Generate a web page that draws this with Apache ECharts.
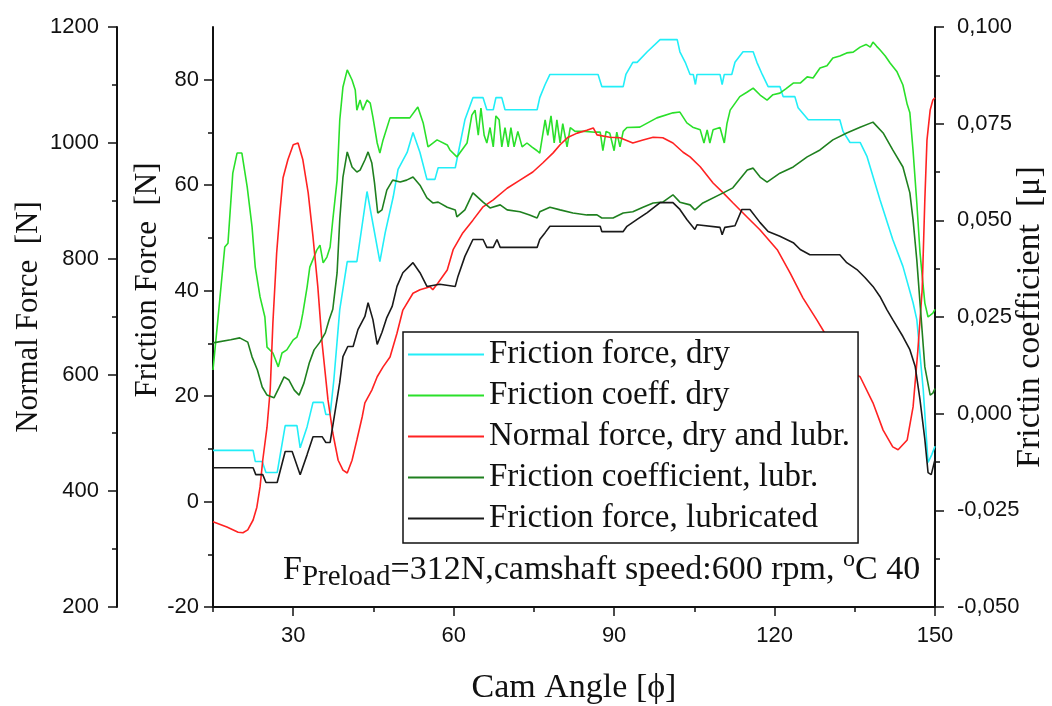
<!DOCTYPE html>
<html>
<head>
<meta charset="utf-8">
<script src="https://cdn.jsdelivr.net/npm/echarts@6/dist/echarts.min.js"></script>
<style>
html,body{margin:0;padding:0;background:#fff;}
#chart{width:1052px;height:706px;}
</style>
</head>
<body>
<div id="chart"></div>
<script>
// ---- data ----
const xTickLabels = [30, 60, 90, 120, 150];
const xMinorTicks = [15, 45, 75, 105, 135];
const ffTickLabels = [-20, 0, 20, 40, 60, 80];
const ffMinorTicks = [-10, 10, 30, 50, 70];
const nfTickLabels = [200, 400, 600, 800, 1000, 1200];
const nfMinorTicks = [300, 500, 700, 900, 1100];
const muTickLabels = [-0.05, -0.025, 0, 0.025, 0.05, 0.075, 0.1];
const muMinorTicks = [-0.0375, -0.0125, 0.0125, 0.0375, 0.0625, 0.0875];

const seriesNames = ['Friction force, dry', 'Friction coeff. dry', 'Normal force, dry and lubr.', 'Friction coefficient, lubr.', 'Friction force, lubricated'];

// Friction force, dry [N]
const frictionForceDry = [[15,9.7],[22.5,9.7],[22.9,7.6],[24.2,7.6],[24.9,5.5],[27.0,5.5],[28.5,14.4],[30.7,14.4],[31.3,10.2],[32.6,14.2],[33.7,18.8],[35.6,18.8],[36.1,16.5],[36.9,16.5],[37.6,23.1],[38.7,36.4],[40.1,45.5],[41.9,45.5],[43.8,58.8],[46.2,45.5],[47.2,51.0],[48.7,57.8],[49.6,63.0],[51.3,66.2],[52.4,70.0],[53.7,66.2],[55.0,61.1],[56.5,61.1],[57.1,63.3],[60.3,63.3],[62.1,72.4],[63.6,76.6],[65.5,76.6],[66.2,74.3],[67.4,74.3],[67.9,76.6],[69.0,76.6],[69.6,74.3],[75.6,74.3],[76.1,76.6],[77.1,79.1],[78.0,81.0],[87.0,81.0],[87.7,78.7],[91.7,78.7],[92.2,81.0],[93.5,83.3],[94.3,83.3],[96.2,85.3],[98.6,87.6],[101.8,87.6],[102.3,85.3],[103.3,83.3],[104.2,81.0],[104.8,81.0],[105.2,79.1],[105.5,81.0],[109.8,81.0],[110.2,79.1],[110.6,81.0],[112.0,81.0],[112.6,83.3],[114.1,85.3],[116.0,85.3],[116.7,83.3],[117.7,81.0],[118.8,78.7],[121.0,78.7],[121.6,76.8],[123.8,76.8],[124.4,74.7],[126.3,72.4],[132.2,72.4],[132.8,70.2],[134.1,68.1],[136.0,68.1],[137.3,65.4],[139.7,57.3],[142.1,49.7],[144.0,44.6],[145.9,37.7],[146.6,34.5],[147.8,21.2],[148.7,7.4],[149.4,8.9],[150,10.5]];

// Friction coeff. dry [mu]
const frictionCoeffDry = [[15.0,0.0113],[15.9,0.0242],[17.2,0.0431],[17.8,0.0441],[18.7,0.0622],[19.5,0.0674],[20.4,0.0674],[21.4,0.0586],[22.3,0.0483],[22.9,0.0379],[23.8,0.0302],[24.7,0.0250],[25.1,0.0172],[26.2,0.0157],[27.2,0.0121],[27.9,0.0157],[28.8,0.0165],[30.0,0.0191],[30.7,0.0198],[31.3,0.0224],[31.8,0.0260],[32.6,0.0328],[33.1,0.0379],[34.4,0.0423],[35.0,0.0436],[35.6,0.0390],[36.3,0.0405],[36.9,0.0431],[37.4,0.0501],[38.2,0.0604],[38.7,0.0759],[39.3,0.0845],[40.1,0.0889],[41.0,0.0863],[41.6,0.0837],[41.9,0.0785],[42.5,0.0811],[43.0,0.0785],[43.8,0.0811],[44.4,0.0803],[44.9,0.0767],[45.7,0.0700],[46.2,0.0674],[46.8,0.0708],[48.1,0.0765],[50.0,0.0765],[51.8,0.0765],[53.3,0.0793],[54.3,0.0752],[55.2,0.0690],[56.9,0.0708],[58.8,0.0695],[59.3,0.0682],[60.6,0.0664],[62.5,0.0700],[63.4,0.0772],[64.0,0.0785],[64.6,0.0720],[65.1,0.0790],[65.7,0.0720],[66.2,0.0700],[66.8,0.0740],[67.4,0.0690],[67.9,0.0770],[68.5,0.0760],[69.0,0.0690],[69.6,0.0740],[70.2,0.0690],[70.7,0.0740],[71.3,0.0690],[72.0,0.0730],[72.8,0.0690],[73.7,0.0700],[74.6,0.0690],[75.6,0.0680],[76.1,0.0674],[77.1,0.0760],[77.6,0.0720],[78.2,0.0770],[78.8,0.0700],[79.3,0.0760],[79.9,0.0700],[80.4,0.0750],[81.2,0.0690],[81.8,0.0740],[82.7,0.0730],[84.6,0.0730],[86.4,0.0728],[87.4,0.0728],[87.9,0.0680],[88.5,0.0730],[89.2,0.0725],[90.0,0.0680],[90.5,0.0728],[91.1,0.0690],[91.7,0.0730],[92.4,0.0740],[94.8,0.0741],[98.0,0.0765],[101.0,0.0778],[102.3,0.0780],[103.6,0.0752],[104.7,0.0741],[106.1,0.0734],[106.8,0.0700],[107.4,0.0734],[107.9,0.0700],[108.5,0.0734],[109.8,0.0740],[110.6,0.0700],[111.1,0.0750],[111.7,0.0785],[113.5,0.0820],[114.9,0.0832],[116.0,0.0842],[117.3,0.0824],[118.6,0.0811],[119.7,0.0825],[121.0,0.0829],[122.1,0.0840],[123.5,0.0855],[124.8,0.0855],[126.1,0.0871],[127.2,0.0868],[128.5,0.0894],[129.8,0.0900],[130.9,0.0920],[132.2,0.0925],[133.5,0.0933],[134.7,0.0935],[136.0,0.0948],[137.1,0.0955],[137.9,0.0948],[138.4,0.0961],[139.1,0.0950],[139.7,0.0941],[140.7,0.0925],[141.6,0.0907],[142.9,0.0884],[144.0,0.0850],[144.8,0.0800],[145.3,0.0778],[145.9,0.0680],[146.6,0.0545],[147.2,0.0416],[148.1,0.0286],[148.7,0.0250],[149.6,0.0260],[150.0,0.0270]];

// Normal force, dry and lubr. [N]
const normalForce = [[15,347],[17.6,338],[19.7,329],[20.6,328],[21.5,333],[22.5,350],[23.2,372],[23.8,407],[24.3,453],[25.1,510],[25.7,575],[26.2,690],[26.9,810],[27.5,880],[28.1,940],[29.0,971],[30.0,997],[30.9,1000],[31.8,971],[32.8,914],[33.7,838],[34.6,752],[35.4,655],[36.5,557],[37.4,500],[38.4,453],[39.3,436],[40.1,431],[41.0,453],[41.9,488],[42.9,528],[43.4,552],[44.7,574],[45.7,597],[46.8,614],[48.1,631],[49.4,672],[50.5,712],[52.4,741],[53.7,747],[55.6,752],[56.1,747],[57.1,759],[58.8,781],[59.9,816],[61.7,845],[63.6,867],[65.5,890],[67.4,902],[70.0,922],[72.4,936],[74.8,950],[76.7,966],[78.6,983],[79.9,997],[81.4,1010],[83.1,1017],[84.9,1022],[86.1,1026],[86.8,1014],[89.2,1010],[91.1,1009],[93.5,1000],[95.4,1005],[97.3,1010],[99.1,1009],[101.0,1000],[102.9,984],[104.2,976],[106.1,959],[108.5,931],[110.4,914],[112.2,897],[114.9,872],[117.3,850],[120.5,816],[122.9,776],[125.3,733],[127.9,695],[129.8,666],[132.2,631],[134.7,603],[136.0,597],[138.4,552],[140.3,505],[142.1,476],[143.1,471],[144.8,488],[145.9,545],[146.8,643],[147.6,747],[148.1,902],[148.5,1005],[149.1,1057],[149.6,1074],[150,1078]];

// Friction coefficient, lubr. [mu]
const frictionCoeffLubr = [[15.0,0.0183],[18.3,0.0191],[20.0,0.0196],[21.5,0.0185],[22.3,0.0147],[23.3,0.0113],[24.2,0.0069],[25.1,0.0048],[26.4,0.0041],[27.3,0.0066],[28.3,0.0095],[29.2,0.0087],[30.2,0.0061],[31.1,0.0048],[32.0,0.0079],[33.0,0.0131],[33.9,0.0165],[35.0,0.0185],[36.0,0.0209],[36.7,0.0242],[37.4,0.0270],[38.2,0.0364],[38.7,0.0501],[39.3,0.0612],[40.1,0.0677],[41.0,0.0638],[41.9,0.0625],[42.5,0.0630],[43.4,0.0656],[44.0,0.0677],[44.7,0.0648],[45.2,0.0597],[45.8,0.0519],[46.6,0.0527],[47.5,0.0578],[48.6,0.0604],[50.0,0.0599],[51.2,0.0604],[52.4,0.0612],[53.7,0.0591],[55.0,0.0558],[56.1,0.0545],[57.1,0.0547],[58.8,0.0534],[60.3,0.0527],[60.6,0.0509],[62.1,0.0527],[63.6,0.0571],[65.5,0.0547],[66.8,0.0532],[68.7,0.0540],[70.0,0.0527],[72.4,0.0522],[74.2,0.0514],[75.6,0.0506],[76.1,0.0522],[78.0,0.0534],[79.9,0.0527],[82.3,0.0519],[84.9,0.0514],[86.8,0.0514],[87.7,0.0506],[89.8,0.0506],[91.7,0.0519],[93.5,0.0522],[95.4,0.0534],[97.3,0.0545],[99.1,0.0547],[101.0,0.0566],[102.3,0.0547],[104.2,0.0540],[105.1,0.0527],[106.6,0.0545],[110.4,0.0571],[112.2,0.0584],[114.9,0.0630],[116.0,0.0635],[117.3,0.0612],[118.6,0.0599],[121.0,0.0622],[123.5,0.0638],[126.1,0.0664],[128.5,0.0682],[130.9,0.0708],[133.5,0.0726],[136.0,0.0741],[138.4,0.0754],[140.3,0.0726],[142.1,0.0682],[144.0,0.0638],[145.3,0.0571],[145.9,0.0501],[146.6,0.0397],[147.2,0.0286],[148.1,0.0121],[149.1,0.0048],[149.6,0.0053],[150.0,0.0065]];

// Friction force, lubricated [N]
const frictionForceLubr = [[15,6.4],[22.5,6.4],[23.0,5.1],[24.3,5.1],[24.9,3.6],[27.0,3.6],[28.5,9.5],[29.8,9.5],[31.3,5.1],[32.6,8.9],[33.7,12.3],[35.4,12.3],[36.1,11.2],[36.9,11.2],[38.7,22.6],[39.3,27.5],[40.2,29.4],[41.2,29.4],[42.1,32.6],[43.4,35.1],[44.0,37.7],[44.9,34.5],[45.7,29.8],[46.6,32.1],[47.5,34.9],[48.5,37.0],[49.4,40.8],[50.5,43.4],[52.4,45.3],[53.7,43.4],[55.0,40.8],[57.4,41.2],[60.3,40.8],[60.8,42.7],[62.1,46.5],[63.6,49.7],[65.5,49.7],[66.2,48.2],[67.4,48.2],[68.1,49.7],[68.7,48.2],[75.6,48.2],[76.1,49.7],[77.1,51.0],[78.0,52.2],[87.4,52.2],[87.7,51.2],[91.7,51.2],[92.4,52.2],[94.3,53.5],[96.2,54.8],[98.6,56.7],[101.0,56.7],[102.3,55.4],[103.6,53.5],[105.1,51.6],[105.5,52.5],[109.8,52.0],[110.2,50.6],[110.7,52.0],[112.6,52.3],[113.9,55.4],[115.4,55.4],[117.3,52.9],[118.8,51.2],[121.0,50.3],[123.5,49.1],[124.8,47.8],[126.6,46.8],[132.2,46.8],[133.5,45.3],[135.4,44.0],[136.9,42.5],[138.4,40.8],[139.7,38.9],[141.0,36.4],[142.1,34.5],[144.0,31.3],[145.3,28.8],[146.3,25.6],[147.2,19.3],[148.1,11.8],[148.7,5.5],[149.3,5.1],[150,8.0]];

// ---- chart ----
const SERIF = '"Liberation Serif","Times New Roman",serif';
const SANS = '"Liberation Sans",Arial,sans-serif';
const INK = '#111';
const colors = ['#22eef8', '#2ae02a', '#ff2222', '#1f801f', '#1a1a1a'];

function muFmt(v) {
  return v.toFixed(3).replace('.', ',');
}
function plainFmt(v) {
  return String(v);
}

function majorAxis(extra) {
  return Object.assign({
    type: 'value',
    axisLine: { show: true, onZero: false, lineStyle: { color: INK, width: 2 } },
    splitLine: { show: false },
    nameLocation: 'middle',
    nameMoveOverlap: false,
    nameTextStyle: { color: INK, fontFamily: SERIF, fontSize: 31 }
  }, extra);
}
function minorAxis(extra) {
  return Object.assign({
    type: 'value',
    axisLine: { show: false, onZero: false },
    axisLabel: { show: false },
    splitLine: { show: false }
  }, extra);
}
function ticks(values, len) {
  return { show: true, inside: false, length: len, customValues: values, lineStyle: { color: INK, width: 1.5 } };
}
function labels(values, margin, fmt) {
  return { show: true, color: INK, fontFamily: SANS, fontSize: 22, margin: margin, customValues: values, formatter: fmt || plainFmt };
}

const chart = echarts.init(document.getElementById('chart'), null, { renderer: 'canvas' });

const option = {
  animation: false,
  backgroundColor: '#ffffff',
  grid: { left: 213, right: 117, top: 27, bottom: 99, containLabel: false, outerBoundsMode: 'none' },
  xAxis: [
    majorAxis({
      min: 15, max: 150, position: 'bottom',
      axisTick: ticks(xTickLabels, 9),
      axisLabel: labels(xTickLabels, 18),
      name: 'Cam Angle [\u03d5]', nameGap: 64,
      nameTextStyle: { color: INK, fontFamily: SERIF, fontSize: 34 }
    }),
    minorAxis({ min: 15, max: 150, position: 'bottom', axisTick: ticks(xMinorTicks, 5) })
  ],
  yAxis: [
    majorAxis({
      min: -20, max: 90, position: 'left', offset: 0,
      axisTick: ticks(ffTickLabels, 9),
      axisLabel: labels(ffTickLabels, 14),
      name: 'Friction Force  [N]', nameGap: 50,
      nameTextStyle: { color: INK, fontFamily: SERIF, fontSize: 31, padding: [0, 0, 0, 74] }
    }),
    majorAxis({
      min: 200, max: 1200, position: 'left', offset: 96,
      axisTick: ticks(nfTickLabels, 9),
      axisLabel: labels(nfTickLabels, 18),
      name: 'Normal Force  [N]', nameGap: 73
    }),
    majorAxis({
      min: -0.05, max: 0.1, position: 'right', offset: 0,
      axisTick: ticks(muTickLabels, 9),
      axisLabel: labels(muTickLabels, 22, muFmt),
      name: 'Frictin coefficient  [\u03bc]', nameGap: 78,
      nameTextStyle: { color: INK, fontFamily: SERIF, fontSize: 34 }
    }),
    minorAxis({ min: -20, max: 90, position: 'left', offset: 0, axisTick: ticks(ffMinorTicks, 5) }),
    minorAxis({ min: 200, max: 1200, position: 'left', offset: 96, axisTick: ticks(nfMinorTicks, 5) }),
    minorAxis({ min: -0.05, max: 0.1, position: 'right', offset: 0, axisTick: ticks(muMinorTicks, 5) })
  ],
  legend: {
    orient: 'vertical',
    left: 403, top: 332,
    padding: [6, 8, 8, 5],
    icon: 'rect',
    itemWidth: 76, itemHeight: 2, itemGap: 8,
    backgroundColor: '#ffffff',
    borderColor: INK, borderWidth: 1.5,
    textStyle: { color: INK, fontFamily: SERIF, fontSize: 33, lineHeight: 33 },
    data: seriesNames
  },
  graphic: [{
    type: 'text',
    left: 283, top: 548,
    z: 100,
    style: {
      text: '{f|F}{s|Preload}{m|=312N,camshaft speed:600 rpm, }{o|o}{m|C 40}',
      fill: INK,
      rich: {
        f: { fontFamily: SERIF, fontSize: 34, lineHeight: 44, verticalAlign: 'middle', fill: INK },
        m: { fontFamily: SERIF, fontSize: 34, lineHeight: 44, verticalAlign: 'middle', fill: INK },
        s: { fontFamily: SERIF, fontSize: 29, lineHeight: 26, verticalAlign: 'bottom', fill: INK },
        o: { fontFamily: SERIF, fontSize: 24, lineHeight: 24, verticalAlign: 'top', fill: INK }
      }
    }
  }],
  series: [
    { name: seriesNames[0], type: 'line', xAxisIndex: 0, yAxisIndex: 0, data: frictionForceDry, color: colors[0] },
    { name: seriesNames[1], type: 'line', xAxisIndex: 0, yAxisIndex: 2, data: frictionCoeffDry, color: colors[1] },
    { name: seriesNames[2], type: 'line', xAxisIndex: 0, yAxisIndex: 1, data: normalForce, color: colors[2] },
    { name: seriesNames[3], type: 'line', xAxisIndex: 0, yAxisIndex: 2, data: frictionCoeffLubr, color: colors[3] },
    { name: seriesNames[4], type: 'line', xAxisIndex: 0, yAxisIndex: 0, data: frictionForceLubr, color: colors[4] }
  ].map(s => Object.assign(s, {
    showSymbol: false, symbol: 'none', smooth: false, clip: true,
    itemStyle: { color: s.color },
    lineStyle: { width: 1.6, color: s.color }
  }))
};

chart.setOption(option);
</script>
</body>
</html>
